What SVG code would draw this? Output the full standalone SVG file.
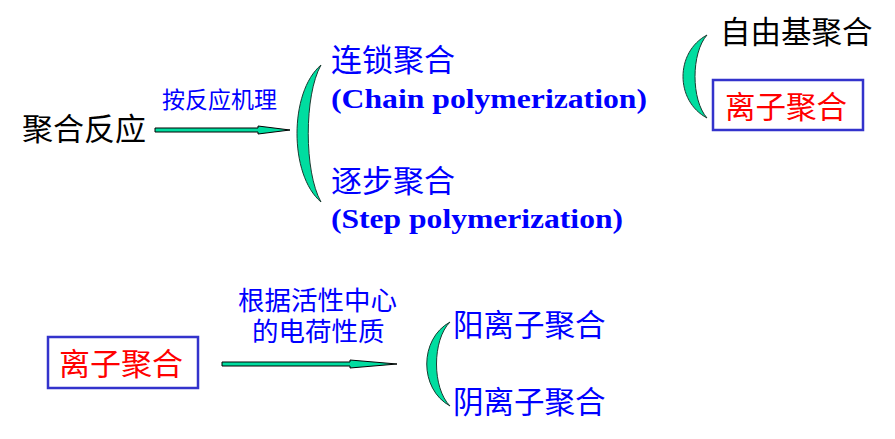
<svg xmlns="http://www.w3.org/2000/svg" width="895" height="439" viewBox="0 0 895 439">
<style>
.cn{font-family:"Liberation Sans","Noto Sans CJK SC",sans-serif;}
.blk{fill:#000;}
.blu{fill:#0000FF;}
.red{fill:#FF0000;}
.en{font-family:"Liberation Serif",serif;font-weight:bold;fill:#0000FF;font-size:28px;}
.brace{fill:#00DDA0;stroke:#1a3a30;stroke-width:1;}
.arrow{fill:#00DDA0;stroke:#000;stroke-width:1;}
.box{fill:#fff;stroke:#3333CC;stroke-width:2.5;}
</style>
<rect width="895" height="439" fill="#fff"/>
<g id="n-juhe"><text class="cn blk" x="22" y="140" font-size="31">聚合反应</text></g>
<g id="n-brace1"><path class="brace" d="M321,65 C289,92 289,175 321,202 C304,172 304,95 321,65 Z"/></g>
<g id="n-chain">
<text class="cn blu" x="331" y="71" font-size="31">连锁聚合</text>
<text class="en" x="331" y="108" textLength="316" lengthAdjust="spacingAndGlyphs">(Chain polymerization)</text>
</g>
<g id="n-step">
<text class="cn blu" x="331" y="192" font-size="31">逐步聚合</text>
<text class="en" x="331" y="228" textLength="292" lengthAdjust="spacingAndGlyphs">(Step polymerization)</text>
</g>
<g id="n-brace2"><path class="brace" d="M707,35 C675,52 675,101 707,118 C691,100 691,53 707,35 Z"/></g>
<g id="n-radical"><text class="cn blk" x="720" y="43" font-size="30.5">自由基聚合</text></g>
<g id="n-ionic-top">
<rect class="box" x="713" y="80" width="150" height="50"/>
<text class="cn red" x="725" y="118" font-size="30.5">离子聚合</text>
</g>
<g id="n-ionic-bottom">
<rect class="box" x="48" y="337" width="150" height="51"/>
<text class="cn red" x="59" y="375" font-size="31">离子聚合</text>
</g>
<g id="n-brace3"><path class="brace" d="M450,322 C419,339 419,389 450,406 C432,388 432,340 450,322 Z"/></g>
<g id="n-cationic"><text class="cn blu" x="453" y="336" font-size="30.5">阳离子聚合</text></g>
<g id="n-anionic"><text class="cn blu" x="453" y="413" font-size="30.5">阴离子聚合</text></g>
<g id="connectors">
<path class="arrow" d="M155,128 L258,128 L258,126 L290,130 L258,134 L258,132 L155,132 Z"/>
<text class="cn blu" x="162" y="108" font-size="23">按反应机理</text>
<path class="arrow" d="M222,362 L350,362 L350,360 L397,364 L350,368 L350,366 L222,366 Z"/>
<text class="cn blu" x="238" y="310" font-size="26.5">根据活性中心</text>
<text class="cn blu" x="252" y="341" font-size="26.5">的电荷性质</text>
</g>
</svg>
